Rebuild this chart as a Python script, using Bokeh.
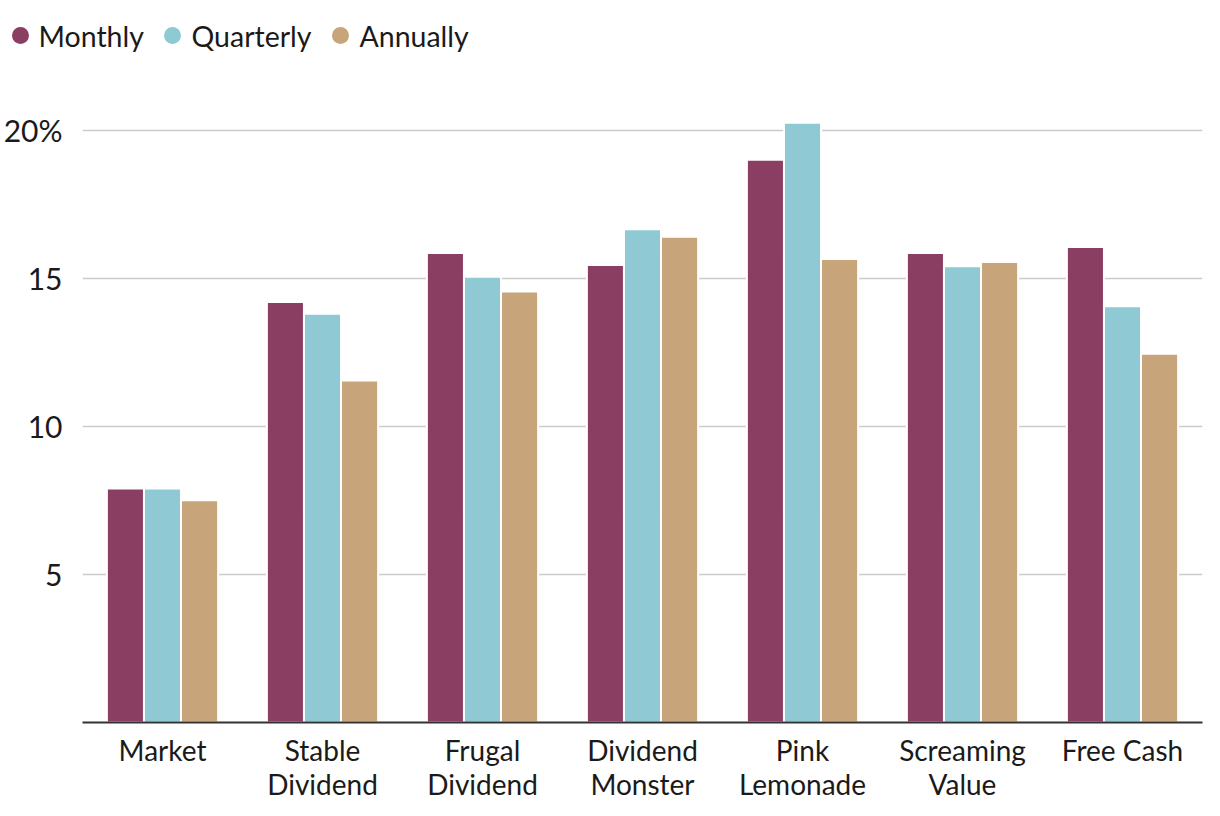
from bokeh.plotting import figure
from bokeh.models import ColumnDataSource, FixedTicker, Range1d
from bokeh.transform import dodge
from bokeh.core.properties import value
from bokeh.embed import file_html
from bokeh.resources import INLINE

# ---- data ----
categories = ["Market", "Stable Dividend", "Frugal Dividend", "Dividend Monster",
              "Pink Lemonade", "Screaming Value", "Free Cash"]
tick_labels = ["Market", "Stable\nDividend", "Frugal\nDividend", "Dividend\nMonster",
               "Pink\nLemonade", "Screaming\nValue", "Free Cash"]
monthly = [7.9, 14.2, 15.85, 15.45, 19.0, 15.85, 16.05]
quarterly = [7.9, 13.8, 15.05, 16.65, 20.25, 15.4, 14.05]
annually = [7.5, 11.55, 14.55, 16.4, 15.65, 15.55, 12.45]
series_names = ["Monthly", "Quarterly", "Annually"]
y_ticks = [5, 10, 15, 20]
y_tick_labels = ["5", "10", "15", "20%"]

colors = ["#8A3E62", "#8FCAD4", "#C7A479"]
FONT = "Lato"
TEXT = "#1a1a1a"

xpos = [i + 0.5 for i in range(len(categories))]
src = ColumnDataSource(dict(x=xpos, cat=categories, Monthly=monthly,
                            Quarterly=quarterly, Annually=annually))

# ---- legend strip (its own small figure, no axes) ----
LEG_H = 64
leg = figure(width=1204, height=LEG_H, x_range=Range1d(0, 1204), y_range=Range1d(0, LEG_H),
             output_backend="svg", toolbar_location=None,
             x_axis_location=None, y_axis_location=None,
             min_border=0, outline_line_color=None)
leg.grid.visible = False
leg_cx = [20, 172, 340]
leg_tx = [38, 191, 359]
leg_cy = [LEG_H - 35] * 3
leg.scatter(x=leg_cx, y=leg_cy, size=17, marker="circle", fill_color=colors, line_color=None)
leg.text(x=leg_tx, y=leg_cy, text=series_names,
         text_font=value(FONT), text_font_size="28.5px", text_color=TEXT,
         text_baseline="middle", text_align="left")

# ---- main chart ----
p = figure(width=1204, height=744, x_range=Range1d(0, len(categories)),
           y_range=Range1d(0, 21.0), output_backend="svg", toolbar_location=None,
           min_border_left=75, min_border_right=2, min_border_top=36,
           min_border_bottom=86, outline_line_color=None)

pitch = 0.2317
for k, name in enumerate(series_names):
    p.vbar(x=dodge("x", (k - 1) * pitch, range=p.x_range), top=name, width=pitch,
           source=src, fill_color=colors[k], line_color="white", line_width=2)

p.xgrid.visible = False
p.ygrid.ticker = FixedTicker(ticks=y_ticks)
p.ygrid.grid_line_color = "#cccccc"
p.ygrid.grid_line_width = 1.5

p.yaxis.ticker = FixedTicker(ticks=y_ticks)
p.yaxis.major_label_overrides = {t: l for t, l in zip(y_ticks, y_tick_labels)}
p.yaxis.axis_line_color = None
p.yaxis.major_tick_line_color = None
p.yaxis.minor_tick_line_color = None
p.yaxis.major_label_standoff = 14
p.yaxis.major_label_text_font = FONT
p.yaxis.major_label_text_font_size = "30px"
p.yaxis.major_label_text_color = TEXT

p.xaxis.ticker = FixedTicker(ticks=xpos)
p.xaxis.major_label_overrides = {x: l for x, l in zip(xpos, tick_labels)}
p.xaxis.axis_line_color = "#333333"
p.xaxis.axis_line_width = 2
p.xaxis.major_tick_line_color = None
p.xaxis.minor_tick_line_color = None
p.xaxis.major_label_standoff = 4
p.xaxis.major_label_text_font = FONT
p.xaxis.major_label_text_font_size = "28px"
p.xaxis.major_label_text_line_height = 1.0
p.xaxis.major_label_text_color = TEXT

open("out.html", "w").write(file_html([leg, p], INLINE))
